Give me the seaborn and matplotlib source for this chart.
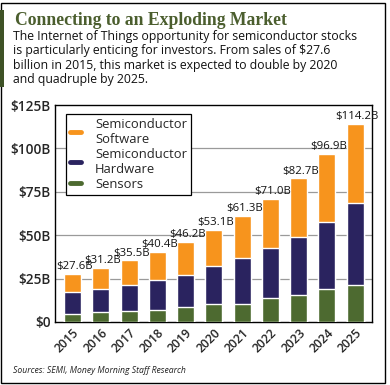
import numpy as np
import pandas as pd
import matplotlib.pyplot as plt
from matplotlib.lines import Line2D
from matplotlib.patches import Rectangle
import seaborn as sns

# Values (billions of dollars)
years = ["2015", "2016", "2017", "2018", "2019", "2020",
         "2021", "2022", "2023", "2024", "2025"]
sensors = [4.6, 5.8, 6.3, 6.9, 8.6, 10.5, 10.5, 13.8, 15.7, 19.0, 21.5]
hardware = [12.5, 13.0, 15.0, 17.3, 18.5, 21.9, 26.4, 28.8, 33.3, 38.6, 47.2]
software = [10.5, 12.4, 14.2, 16.2, 19.1, 20.7, 24.4, 28.4, 33.7, 39.3, 45.5]
total_labels = ["$27.6B", "$31.2B", "$35.5B", "$40.4B", "$46.2B", "$53.1B",
                "$61.3B", "$71.0B", "$82.7B", "$96.9B", "$114.2B"]
y_ticks = [0, 25, 50, 75, 100, 125]
y_labels = ["$0", "$25B", "$50B", "$75B", "$100B", "$125B"]

c_soft = "#F7941D"
c_hard = "#2A235F"
c_sens = "#4D6A30"

df = pd.DataFrame({"year": years, "sensors": sensors,
                   "hardware": hardware, "software": software})
df["hw_top"] = df["sensors"] + df["hardware"]
df["total"] = df["hw_top"] + df["software"]

sns.set_style("white")
plt.rcParams["font.family"] = ["Open Sans", "DejaVu Sans"]

fig = plt.figure(figsize=(3.9, 3.85), dpi=100)
ax = fig.add_axes([0.141, 0.164, 0.813, 0.563])

# stacked bars drawn as overlapping layers
sns.barplot(data=df, x="year", y="total", color=c_soft, width=0.6,
            saturation=1, ax=ax, zorder=3)
sns.barplot(data=df, x="year", y="hw_top", color=c_hard, width=0.6,
            saturation=1, ax=ax, zorder=3)
sns.barplot(data=df, x="year", y="sensors", color=c_sens, width=0.6,
            saturation=1, ax=ax, zorder=3)

for i, (t, lab) in enumerate(zip(df["total"], total_labels)):
    ax.text(i + 0.08, t + 1.0, lab, ha="center", va="bottom",
            fontsize=8.2, color="#111111")

ax.set_xlim(-0.62, 10.6)
ax.set_ylim(0, 125)
ax.set_yticks(y_ticks)
ax.set_yticklabels(y_labels, fontsize=9.8, fontweight="semibold")
ax.set_xticks(range(len(years)))
ax.set_xticklabels(years, rotation=45, ha="right", rotation_mode="anchor",
                   fontsize=8.8, fontweight="semibold")
ax.tick_params(axis="both", length=0, pad=3)
ax.set_xlabel("")
ax.set_ylabel("")
for yv in y_ticks[1:-1]:
    ax.axhline(yv, color="#9a9a9a", lw=0.9, zorder=1)
for s in ax.spines.values():
    s.set_visible(True)
    s.set_color("black")
    s.set_linewidth(1.0)

handles = [Line2D([0], [0], color=c_soft, lw=3.5),
           Line2D([0], [0], color=c_hard, lw=3.5),
           Line2D([0], [0], color=c_sens, lw=3.5)]
leg = ax.legend(handles, ["Semiconductor\nSoftware", "Semiconductor\nHardware",
                          "Sensors"],
                loc="upper left", bbox_to_anchor=(0.015, 0.99),
                fontsize=9.4, handlelength=0.8, handletextpad=1.1,
                labelspacing=0.15, borderpad=0.3, fancybox=False,
                framealpha=1, edgecolor="black")
leg.get_frame().set_linewidth(0.9)

# header texts
fig.text(0.038, 0.935, "Connecting to an Exploding Market",
         family=["Liberation Serif", "DejaVu Serif"], fontweight="bold",
         fontsize=12.7, color="#4B5E2E")
body = ("The Internet of Things opportunity for semiconductor stocks\n"
        "is particularly enticing for investors. From sales of $27.6\n"
        "billion in 2015, this market is expected to double by 2020\n"
        "and quadruple by 2025.")
fig.text(0.033, 0.922, body, fontsize=8.85, va="top", linespacing=1.14,
         color="#111111")
fig.text(0.033, 0.03, "Sources: SEMI, Money Morning Staff Research",
         fontsize=6.2, style="italic", color="#222222")

# frame and accent bar
fig.add_artist(Rectangle((0.003, 0.006), 0.985, 0.985, transform=fig.transFigure,
                         fill=False, edgecolor="black", lw=1.0))
fig.add_artist(Rectangle((0.0, 0.775), 0.009, 0.2, transform=fig.transFigure,
                         color="#3E5226", lw=0))

plt.savefig("out.png", dpi=100)
